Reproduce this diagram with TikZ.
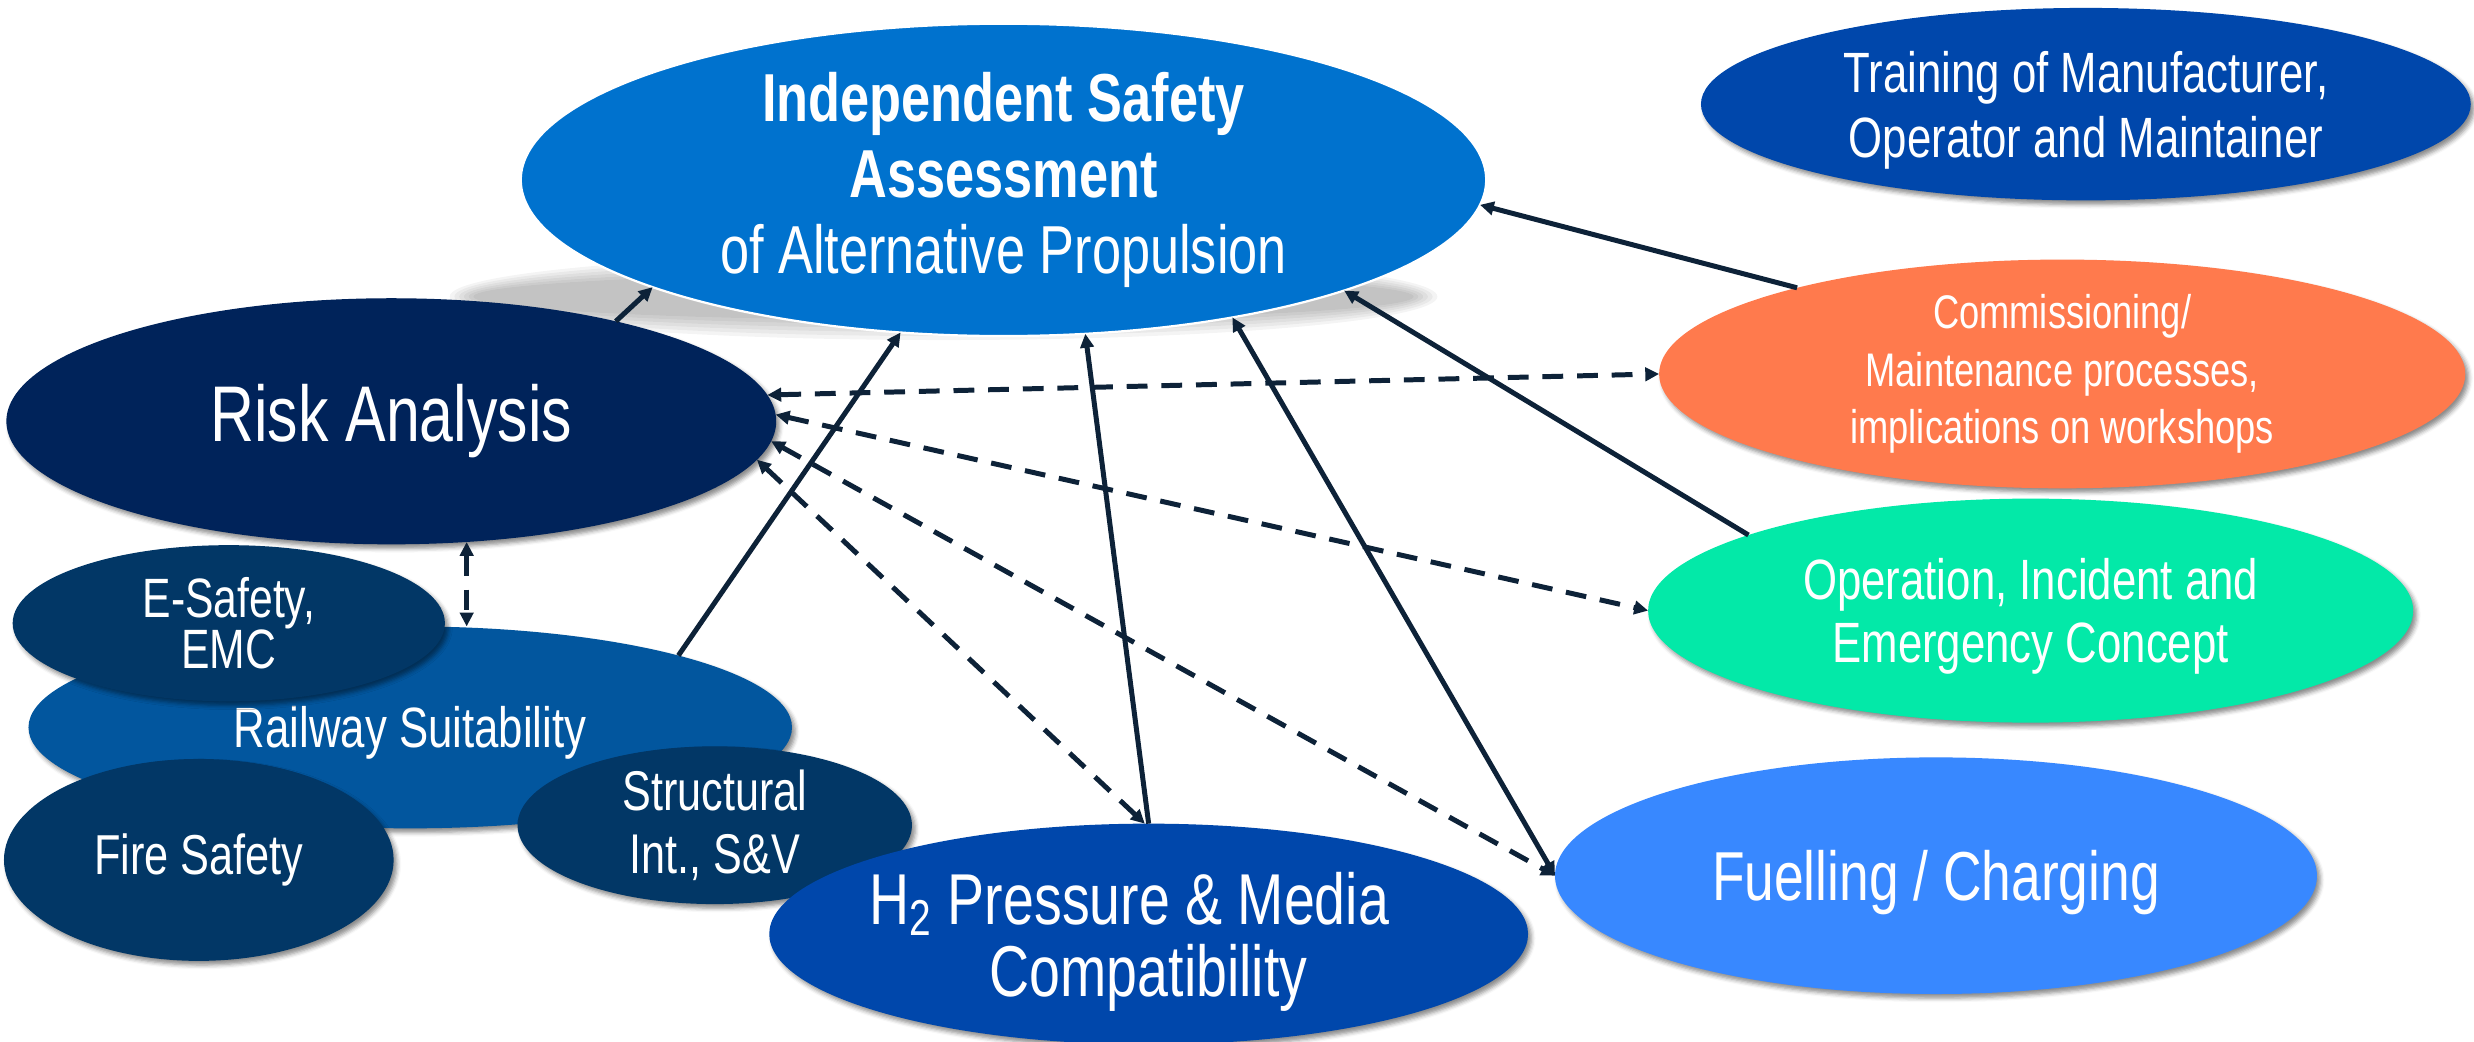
\documentclass[tikz,border=0pt]{standalone}
\usepackage{fontspec}
\setmainfont{Liberation Sans}[FakeStretch=0.77]
\usepackage{xcolor}
\usepackage{tikz}
\usetikzlibrary{arrows.meta}
\usetikzlibrary{shapes.geometric}
\usetikzlibrary{shadows.blur}

\definecolor{isablue}{HTML}{0072CE}
\definecolor{royalblue}{HTML}{0047AB}
\definecolor{riskblue}{HTML}{00235A}
\definecolor{deepblue}{HTML}{023766}
\definecolor{railblue}{HTML}{02569E}
\definecolor{commorange}{HTML}{FF7A4D}
\definecolor{opgreen}{HTML}{03E9A8}
\definecolor{fuelblue}{HTML}{3888FF}
\definecolor{linkcol}{HTML}{0D2238}

\newcommand{\fsize}[2]{\fontsize{#1}{#2}\selectfont}

\begin{document}
\begin{tikzpicture}[x=0.02cm,y=-0.02cm,
    bubble/.style={ellipse, inner sep=0pt, outer sep=0pt, text=white, align=center},
    shade/.style={blur shadow={shadow xshift=1.2pt, shadow yshift=-1.5pt, shadow blur radius=1.5pt, shadow opacity=45}},
    link/.style={line width=1.8pt, draw=linkcol, >={Triangle[length=5pt,width=4.8pt]}},
    dlink/.style={link, dash pattern=on 7.5pt off 5pt}]
    \useasboundingbox (0,0) rectangle (1568,660);

    % flat shadow under the main ellipse
    \foreach \k in {0,...,5}
      \fill[black, opacity=0.045] (598,188) ellipse [x radius=298+3*\k, y radius=15+2.5*\k];

    \node[bubble, fill=isablue, draw=white, line width=0.8pt, minimum width=12.24cm, minimum height=3.96cm, font=\fsize{24.5}{27.3}] (isa) at (636,114)
      {\textbf{Independent Safety}\\ \textbf{Assessment}\\ of Alternative Propulsion};

    \node[bubble, shade, fill=riskblue, minimum width=9.76cm, minimum height=3.12cm, font=\fsize{28.5}{32}] (risk) at (248,267) {Risk Analysis};
    \node[bubble, shade, fill=royalblue, minimum width=9.76cm, minimum height=2.44cm, text depth=-7pt, font=\fsize{20.5}{23.3}] (train) at (1322,66)
      {Training of Manufacturer,\\ Operator and Maintainer};
    \node[bubble, shade, fill=commorange, minimum width=10.22cm, minimum height=2.9cm, font=\fsize{17}{20.8}] (comm) at (1307,237)
      {Commissioning/\\ Maintenance processes,\\ implications on workshops};
    \node[bubble, shade, fill=opgreen, minimum width=9.7cm, minimum height=2.84cm, text depth=-5.4pt, font=\fsize{20.5}{22.8}] (oper) at (1287,387)
      {Operation, Incident and\\ Emergency Concept};
    \node[bubble, shade, fill=fuelblue, minimum width=9.66cm, minimum height=3cm, text depth=0pt, font=\fsize{25}{28}] (fuel) at (1227,555) {Fuelling / Charging};

    % left cluster
    \node[bubble, shade, fill=railblue, minimum width=9.68cm, minimum height=2.56cm, text depth=0pt, font=\fsize{20.5}{23}] (rail) at (260,461) {Railway Suitability};
    \node[bubble, shade, fill=deepblue, minimum width=5.48cm, minimum height=1.98cm, font=\fsize{20}{18.5}] (esafe) at (145,395) {E-Safety,\\ EMC};
    \node[bubble, shade, fill=deepblue, minimum width=4.94cm, minimum height=2.56cm, font=\fsize{20.3}{23}] (fire) at (126,545) {Fire Safety};
    \node[bubble, shade, fill=deepblue, minimum width=5cm, minimum height=2cm, font=\fsize{20.2}{22.8}] (struct) at (453,523) {Structural\\ Int., S\&V};
    \node[bubble, shade, fill=royalblue, minimum width=9.62cm, minimum height=2.8cm, text depth=-0.7pt, font=\fsize{26}{26}] (htwo) at (728,592)
      {\makebox[0pt]{H\textsubscript{2} Pressure \& Media\hspace{14pt}}\\ Compatibility};

    % solid links into the assessment
    \draw[link,->] (risk.24) -- (isa.197);
    \draw[link,->] (rail.15) -- (isa.236);
    \draw[link,->] (htwo.90) -- (isa.298);
    \draw[link,<->] (isa.329) -- (fuel.180);
    \draw[link,->] (oper.165) -- (isa.342);
    \draw[link,->] (comm.162) -- (isa.357);

    % dashed links of the risk analysis
    \draw[dlink,<->] (risk.302) -- (risk.302 |- rail.north);
    \draw[dlink,<->] (risk.4) -- (comm.180);
    \draw[dlink,<->] (risk.1) -- (oper.180);
    \draw[dlink,<->] (risk.357) -- (fuel.180);
    \draw[dlink,<->] (risk.354) -- (htwo.92);
\end{tikzpicture}
\end{document}
